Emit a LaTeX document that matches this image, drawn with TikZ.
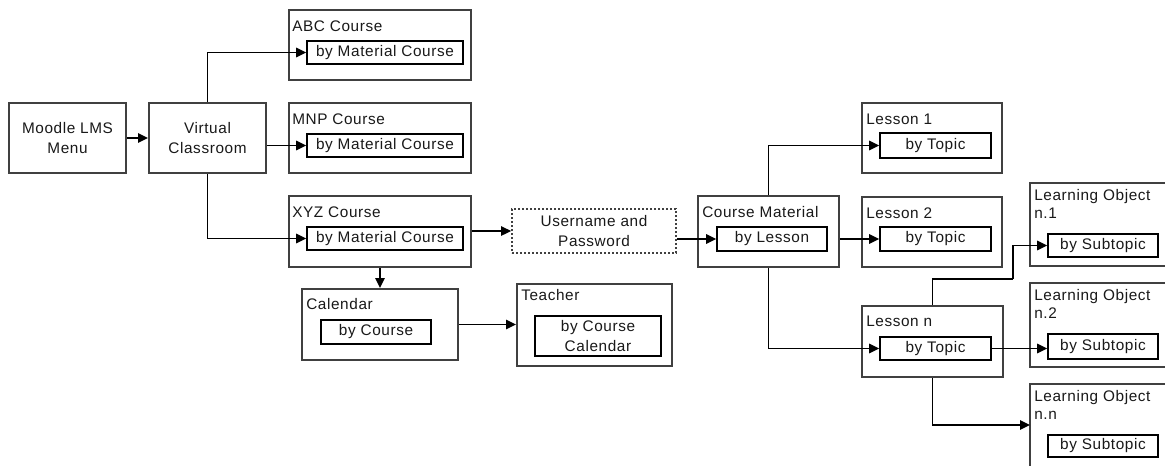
\documentclass[tikz,border=0pt]{standalone}
\usepackage{fontspec}
\setmainfont[LetterSpace=4]{Liberation Sans}
\usetikzlibrary{arrows.meta}
\begin{document}
\begin{tikzpicture}[x=0.75pt,y=-0.75pt,
  every node/.style={font=\fontsize{11.5}{14.5}\selectfont, text=black!90},
  sz/.style 2 args={minimum width=#1*0.75pt, minimum height=#2*0.75pt},
  obox/.style={draw=black!75, line width=1.5pt, inner sep=0pt, align=center},
  ibox/.style={draw=black, line width=1.2pt, inner sep=0pt, align=center},
  dbox/.style={draw=black!75, line width=1.3pt, dash pattern=on 1.7pt off 1.3pt, inner sep=0pt, align=center},
  ttl/.style={anchor=base west, inner sep=0pt},
  ttltwo/.style={anchor=base west, inner sep=0pt, align=left, font=\fontsize{11.5}{13.5}\selectfont},
  arr/.style={-{Triangle[length=7.5pt,width=7pt]}, line width=1.3pt},
  ln/.style={line width=1.3pt}]
\clip (0,0) rectangle (1165,465);
\fill[white] (0,0) rectangle (1165,465);

% left column
\node[obox, sz={117}{70}] (menu) at (67.5,138) {Moodle LMS\\Menu};
\node[obox, sz={117}{70}] (vc) at (207.5,138) {Virtual\\Classroom};

% courses
\node[obox, sz={182}{70}] (abc) at (380,45) {};
\node[ttl] (abct) at (292,31) {ABC Course};
\node[ibox, sz={156}{23}] (abci) at (385,52.5) {by Material Course};

\node[obox, sz={182}{70}] (mnp) at (380,138) {};
\node[ttl] (mnpt) at (292,124) {MNP Course};
\node[ibox, sz={156}{23}] (mnpi) at (385,145.5) {by Material Course};

\node[obox, sz={182}{71}] (xyz) at (380,231.5) {};
\node[ttl] (xyzt) at (292,217) {XYZ Course};
\node[ibox, sz={156}{23}] (xyzi) at (385,238.5) {by Material Course};

% calendar / teacher
\node[obox, sz={156}{71}] (cal) at (380,324.5) {};
\node[ttl] (calt) at (306,309) {Calendar};
\node[ibox, sz={110}{24}] (cali) at (376,332) {by Course};

\node[obox, sz={155}{82}] (tea) at (594.5,325) {};
\node[ttl] (teat) at (521,300) {Teacher};
\node[ibox, sz={126}{40}] (teai) at (598,336) {by Course\\Calendar};

% username
\node[dbox, sz={164}{44}] (up) at (594,231) {Username and\\Password};

% course material
\node[obox, sz={141}{71}] (cm) at (768.5,231.5) {};
\node[ttl] (cmt) at (702,217) {Course Material};
\node[ibox, sz={110}{24}] (cmi) at (772,239) {by Lesson};

% lessons
\node[obox, sz={140}{70}] (l1) at (932,138) {};
\node[ttl] (l1t) at (866,124) {Lesson 1};
\node[ibox, sz={111}{25}] (l1i) at (935.5,145.5) {by Topic};

\node[obox, sz={140}{70}] (l2) at (932,232) {};
\node[ttl] (l2t) at (866,218) {Lesson 2};
\node[ibox, sz={111}{24}] (l2i) at (935.5,239) {by Topic};

\node[obox, sz={141}{71}] (lsn) at (932.5,341.5) {};
\node[ttl] (lsnt) at (866,326) {Lesson n};
\node[ibox, sz={111}{23}] (lsni) at (935.5,348.5) {by Topic};

% learning objects
\node[obox, sz={150}{83}] (lo1) at (1105,224.5) {};
\node[ttltwo] (lo1t) at (1034,218) {Learning Object\\n.1};
\node[ibox, sz={110}{23}] (lo1i) at (1103,245.5) {by Subtopic};

\node[obox, sz={150}{84}] (lo2) at (1105,325) {};
\node[ttltwo] (lo2t) at (1034,318) {Learning Object\\n.2};
\node[ibox, sz={110}{25}] (lo2i) at (1103,346.5) {by Subtopic};

\node[obox, sz={150}{96}] (lon) at (1105,432) {};
\node[ttltwo] (lont) at (1034,419) {Learning Object\\n.n};
\node[ibox, sz={110}{22}] (loni) at (1103,446) {by Subtopic};

% helper coordinates
\coordinate (bend1) at (1013,279);
\coordinate (lonin) at (1030,425);

% connectors
\draw[arr] (menu) -- (vc);
\draw[arr] (vc.north) |- (abci.west);
\draw[arr] (vc.east |- mnpi.west) -- (mnpi.west);
\draw[arr] (vc.south) |- (xyzi.west);
\draw[arr] (xyz.south) -- (cal.north);
\draw[arr] (cal.east) -- (cal.east -| tea.west);
\draw[arr] (xyz.east |- up.west) -- (up.west);
\draw[arr] (up.east |- cmi.west) -- (cmi.west);
\draw[arr] (cm.east |- l2i.west) -- (l2i.west);
\draw[arr] (cm.north) |- (l1i.west);
\draw[arr] (cm.south) |- (lsni.west);
\draw[ln] (lsn.north) |- (bend1);
\draw[arr] (bend1) |- (lo1i.west);
\draw[arr] (lsni.east) -- (lsni.east -| lo2i.west);
\draw[arr] (lsn.south) |- (lonin);
\end{tikzpicture}
\end{document}
